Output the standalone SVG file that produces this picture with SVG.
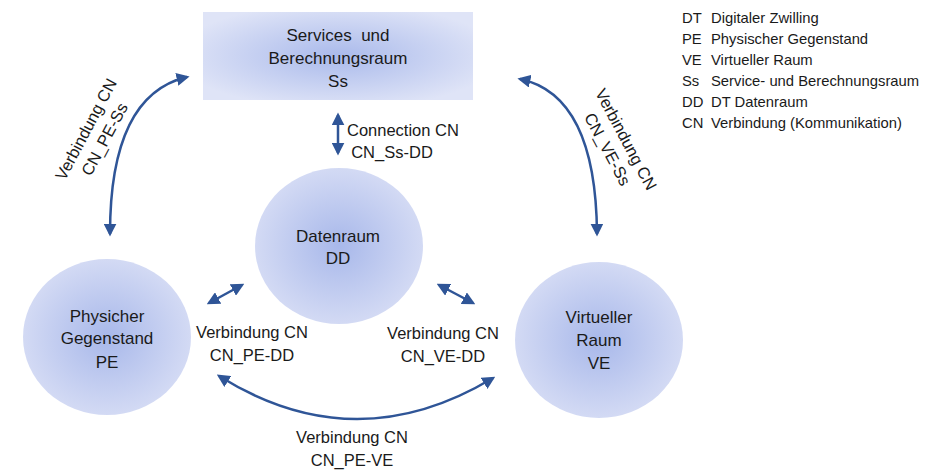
<svg xmlns="http://www.w3.org/2000/svg" width="927" height="473" viewBox="0 0 927 473">
<style>
text{font-family:"Liberation Sans",Arial,sans-serif;fill:#1a1a1a;}
.n{font-size:17px;text-anchor:middle;}
.l{font-size:16.5px;text-anchor:middle;}
.g{font-size:14.8px;}
.c{fill:none;stroke:#2F5597;stroke-width:2.5;marker-start:url(#ah);marker-end:url(#ah);}
</style>
<defs>
<radialGradient id="cg" cx="50%" cy="50%" r="50%">
<stop offset="0" stop-color="#A8B8EA"/>
<stop offset="1" stop-color="#D3DAF4"/>
</radialGradient>
<radialGradient id="rg" cx="50%" cy="50%" r="60%">
<stop offset="0" stop-color="#AABAEB"/>
<stop offset="1" stop-color="#DFE4F7"/>
</radialGradient>
<marker id="ah" viewBox="0 0 10 10" refX="8" refY="5" markerWidth="5.2" markerHeight="5.2" orient="auto-start-reverse" markerUnits="strokeWidth">
<path d="M0,0 L10,5 L0,10 Z" fill="#2F5597"/>
</marker>
</defs>

<g id="connectors">
<path class="c" d="M187,77 Q110,95 110,234"/>
<path class="c" d="M520,79 Q596,95 597,234"/>
<line class="c" x1="338" y1="115" x2="338" y2="153"/>
<line class="c" x1="209" y1="303" x2="242" y2="285"/>
<line class="c" x1="439" y1="285" x2="473" y2="303"/>
<path class="c" d="M219,376 Q355,461 493,378"/>
</g>

<g id="node-Ss">
<rect x="203" y="12" width="270" height="88" fill="url(#rg)"/>
<text class="n" x="338" y="41" xml:space="preserve">Services  und</text>
<text class="n" x="338" y="64">Berechnungsraum</text>
<text class="n" x="338" y="87">Ss</text>
</g>

<g id="node-DD">
<ellipse cx="339" cy="246" rx="84" ry="78" fill="url(#cg)"/>
<text class="n" x="338" y="242">Datenraum</text>
<text class="n" x="338" y="264">DD</text>
</g>

<g id="node-PE">
<ellipse cx="107" cy="337" rx="84" ry="78" fill="url(#cg)"/>
<text class="n" x="107" y="322">Physicher</text>
<text class="n" x="107" y="344">Gegenstand</text>
<text class="n" x="107" y="368">PE</text>
</g>

<g id="node-VE">
<ellipse cx="599" cy="340" rx="84" ry="78" fill="url(#cg)"/>
<text class="n" x="599" y="323">Virtueller</text>
<text class="n" x="599" y="346">Raum</text>
<text class="n" x="599" y="369">VE</text>
</g>

<g id="labels">
<text class="l" x="347" y="136" style="text-anchor:start">Connection CN</text>
<text class="l" x="392" y="158">CN_Ss-DD</text>
<g transform="translate(91,132) rotate(-62)">
<text class="l" x="0" y="0">Verbindung CN</text>
<text class="l" x="0" y="21">CN_PE-Ss</text>
</g>
<g transform="translate(621,142) rotate(62)">
<text class="l" x="0" y="0">Verbindung CN</text>
<text class="l" x="0" y="21">CN_VE-Ss</text>
</g>
<text class="l" x="252" y="338">Verbindung CN</text>
<text class="l" x="252" y="361">CN_PE-DD</text>
<text class="l" x="443" y="339">Verbindung CN</text>
<text class="l" x="443" y="362">CN_VE-DD</text>
<text class="l" x="352" y="443">Verbindung CN</text>
<text class="l" x="352" y="466">CN_PE-VE</text>
</g>

<g id="legend">
<text class="g" x="682" y="23">DT</text><text class="g" x="711" y="23">Digitaler Zwilling</text>
<text class="g" x="682" y="44">PE</text><text class="g" x="711" y="44">Physischer Gegenstand</text>
<text class="g" x="682" y="65">VE</text><text class="g" x="711" y="65">Virtueller Raum</text>
<text class="g" x="682" y="86">Ss</text><text class="g" x="711" y="86">Service- und Berechnungsraum</text>
<text class="g" x="682" y="107">DD</text><text class="g" x="711" y="107">DT Datenraum</text>
<text class="g" x="682" y="128">CN</text><text class="g" x="711" y="128">Verbindung (Kommunikation)</text>
</g>
</svg>
